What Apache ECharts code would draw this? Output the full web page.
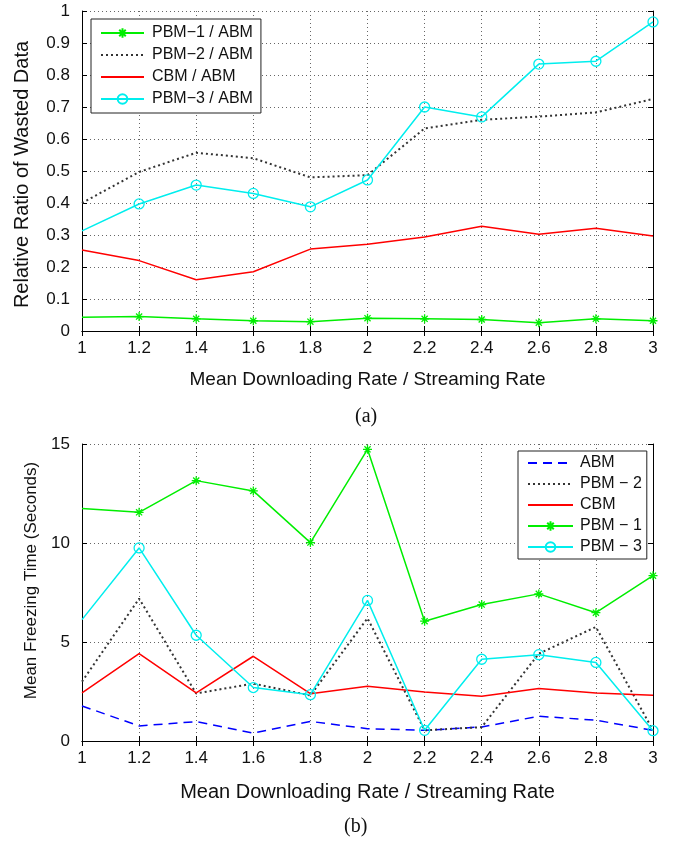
<!DOCTYPE html>
<html>
<head>
<meta charset="utf-8">
<script src="https://cdn.jsdelivr.net/npm/echarts@6.0.0/dist/echarts.min.js"></script>
<style>
  html, body { margin: 0; padding: 0; background: #fff; }
  #chart { width: 679px; height: 842px; }
</style>
</head>
<body>
<div id="chart"></div>
<script>
// x positions shared by both panels
var rates = [1, 1.2, 1.4, 1.6, 1.8, 2, 2.2, 2.4, 2.6, 2.8, 3];

// (a) relative ratio of wasted data
var wastePbm1 = [0.043, 0.045, 0.038, 0.032, 0.029, 0.040, 0.038, 0.036, 0.026, 0.038, 0.032];
var wastePbm2 = [0.400, 0.497, 0.557, 0.540, 0.480, 0.487, 0.633, 0.660, 0.670, 0.683, 0.725];
var wasteCbm  = [0.253, 0.220, 0.160, 0.185, 0.256, 0.271, 0.294, 0.327, 0.302, 0.321, 0.297];
var wastePbm3 = [0.313, 0.397, 0.456, 0.430, 0.388, 0.472, 0.700, 0.669, 0.834, 0.843, 0.966];

// (b) mean freezing time (seconds)
var freezeAbm  = [1.77, 0.76, 0.98, 0.40, 0.99, 0.62, 0.54, 0.71, 1.25, 1.05, 0.54];
var freezePbm2 = [3.0, 7.19, 2.40, 2.90, 2.30, 6.20, 0.54, 0.70, 4.41, 5.76, 0.54];
var freezeCbm  = [2.43, 4.41, 2.43, 4.28, 2.39, 2.76, 2.48, 2.26, 2.65, 2.43, 2.31];
var freezePbm1 = [11.74, 11.55, 13.15, 12.63, 10.02, 14.73, 6.05, 6.89, 7.43, 6.48, 8.35];
var freezePbm3 = [6.13, 9.75, 5.34, 2.70, 2.34, 7.10, 0.54, 4.13, 4.36, 3.97, 0.52];

var GREEN = '#00ee00', CYAN = '#00eeee', RED = '#ff0000', BLUE = '#0000ff', DOT = '#333333';
var STAR = 'path://M0,5L10,5M5,0L5,10M1.6,1.6L8.4,8.4M8.4,1.6L1.6,8.4';
var FONT = 'Liberation Sans';

function pts(ys, marked) {
  return rates.map(function (x, i) {
    // first point sits on the axis with no marker shown
    if (marked && i === 0) return { value: [x, ys[i]], symbol: 'none' };
    return [x, ys[i]];
  });
}

function fmt(v) { return String(+v.toFixed(1)); }

function boxAxes(gi, min, max, step, yName, yGap, yFont, yShift, xGap, xFont) {
  var grid = '#666';
  var tick = { show: true, inside: true, length: 5, lineStyle: { color: '#000' } };
  var line = { show: true, lineStyle: { color: '#000', width: 1 } };
  return {
    x: [{
      type: 'value', gridIndex: gi, min: 1, max: 3, interval: 0.2,
      axisLine: line, axisTick: tick,
      axisLabel: { formatter: fmt, fontSize: 17, color: '#111', fontFamily: FONT, margin: 9 },
      splitLine: { show: true, lineStyle: { color: grid, type: [1, 3], width: 1 } },
      name: 'Mean Downloading Rate / Streaming Rate', nameLocation: 'middle', nameGap: xGap,
      nameTextStyle: { fontSize: xFont, color: '#111', fontFamily: FONT }
    }, {
      type: 'value', gridIndex: gi, min: 1, max: 3, interval: 0.2, position: 'top',
      axisLine: line, axisTick: tick, axisLabel: { show: false }, splitLine: { show: false }
    }],
    y: [{
      type: 'value', gridIndex: gi, min: min, max: max, interval: step,
      axisLine: line, axisTick: tick,
      axisLabel: { formatter: fmt, fontSize: 17, color: '#111', fontFamily: FONT, margin: 12 },
      splitLine: { show: true, lineStyle: { color: grid, type: [1, 3], width: 1 } },
      name: yName, nameLocation: 'middle', nameGap: yGap,
      nameTextStyle: {
        fontSize: yFont, color: '#111', fontFamily: FONT,
        padding: yShift > 0 ? [0, 0, 0, yShift] : [0, -yShift, 0, 0]
      }
    }, {
      type: 'value', gridIndex: gi, min: min, max: max, interval: step, position: 'right',
      axisLine: line, axisTick: tick, axisLabel: { show: false }, splitLine: { show: false }
    }]
  };
}

var axesA = boxAxes(0, 0, 1, 0.1, 'Relative Ratio of Wasted Data', 50, 20, -7, 39, 19);
var axesB = boxAxes(1, 0, 15, 5, 'Mean Freezing Time (Seconds)', 40, 17, 24, 41, 20);

function lineSeries(name, ys, gi, opts) {
  var marked = !!opts.symbol;
  return {
    name: name, type: 'line', xAxisIndex: gi * 2, yAxisIndex: gi * 2,
    data: pts(ys, marked), symbol: opts.symbol || 'circle', symbolSize: opts.size || 8,
    showSymbol: marked, silent: true,
    lineStyle: { color: opts.color, width: opts.width || 1.5, type: opts.type || 'solid' },
    itemStyle: marked
      ? { color: opts.fill || opts.color, borderColor: opts.color, borderWidth: 1.3 }
      : { color: 'rgba(0,0,0,0)', borderWidth: 0 }
  };
}

var chart = echarts.init(document.getElementById('chart'));
chart.setOption({
  animation: false,
  backgroundColor: '#fff',
  grid: [
    { left: 82, top: 11, width: 571, height: 320 },
    { left: 82, top: 444, width: 571, height: 297 }
  ],
  xAxis: axesA.x.concat(axesB.x),
  yAxis: axesA.y.concat(axesB.y),
  legend: [{
    data: ['PBM\u22121 / ABM', 'PBM\u22122 / ABM', 'CBM / ABM', 'PBM\u22123 / ABM'],
    left: 91, top: 19, orient: 'vertical',
    itemWidth: 43, itemHeight: 12, itemGap: 6,
    padding: [6, 8, 6, 9],
    backgroundColor: '#fff', borderColor: '#222', borderWidth: 1,
    textStyle: { fontSize: 16, color: '#111', fontFamily: FONT, lineHeight: 16, padding: [0, 0, 0, 3] }
  }, {
    data: ['ABM', 'PBM \u2212 2', 'CBM', 'PBM \u2212 1', 'PBM \u2212 3'],
    left: 518, top: 451, orient: 'vertical',
    itemWidth: 45, itemHeight: 12, itemGap: 5,
    padding: [4, 5, 4, 9],
    backgroundColor: '#fff', borderColor: '#222', borderWidth: 1,
    textStyle: { fontSize: 16, color: '#111', fontFamily: FONT, lineHeight: 16, padding: [0, 0, 0, 2] }
  }],
  series: [
    lineSeries('PBM\u22121 / ABM', wastePbm1, 0, { color: GREEN, symbol: STAR, size: 9 }),
    lineSeries('PBM\u22122 / ABM', wastePbm2, 0, { color: DOT, type: [2, 3], width: 2 }),
    lineSeries('CBM / ABM', wasteCbm, 0, { color: RED }),
    lineSeries('PBM\u22123 / ABM', wastePbm3, 0, { color: CYAN, symbol: 'circle', size: 10, fill: 'rgba(0,0,0,0)' }),

    lineSeries('ABM', freezeAbm, 1, { color: BLUE, type: [9, 6] }),
    lineSeries('PBM \u2212 2', freezePbm2, 1, { color: DOT, type: [2, 3], width: 2 }),
    lineSeries('CBM', freezeCbm, 1, { color: RED }),
    lineSeries('PBM \u2212 1', freezePbm1, 1, { color: GREEN, symbol: STAR, size: 9 }),
    lineSeries('PBM \u2212 3', freezePbm3, 1, { color: CYAN, symbol: 'circle', size: 10, fill: 'rgba(0,0,0,0)' })
  ],
  graphic: [
    { type: 'text', left: 355, top: 407, style: { text: '(a)', font: '20px "Liberation Serif"', fill: '#111' } },
    { type: 'text', left: 344, top: 817, style: { text: '(b)', font: '20px "Liberation Serif"', fill: '#111' } }
  ]
});
</script>
</body>
</html>
